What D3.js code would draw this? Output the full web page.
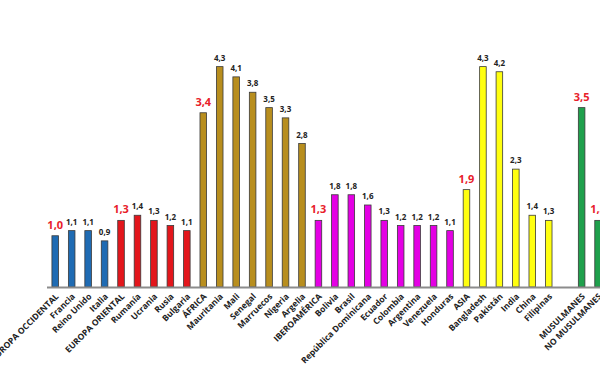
<!DOCTYPE html>
<html>
<head>
<meta charset="utf-8">
<script src="https://cdn.jsdelivr.net/npm/d3@7"></script>
<style>
  body { margin: 0; background: #fff; }
  svg { display: block; }
</style>
</head>
<body>
<div id="chart"></div>
<script>
var width = 600;
var height = 389;

// categories in order, "" is the empty slot before the religion group
var categories = ["EUROPA OCCIDENTAL", "Francia", "Reino Unido", "Italia",
  "EUROPA ORIENTAL", "Rumanía", "Ucrania", "Rusia", "Bulgaria",
  "ÁFRICA", "Mauritania", "Mali", "Senegal", "Marruecos", "Nigeria", "Argelia",
  "IBEROAMÉRICA", "Bolivia", "Brasil", "República Dominicana", "Ecuador", "Colombia", "Argentina", "Venezuela", "Honduras",
  "ASIA", "Bangladesh", "Pakistán", "India", "China", "Filipinas",
  "", "MUSULMANES", "NO MUSULMANES"];
var values = [1.0, 1.1, 1.1, 0.9,
  1.3, 1.4, 1.3, 1.2, 1.1,
  3.4, 4.3, 4.1, 3.8, 3.5, 3.3, 2.8,
  1.3, 1.8, 1.8, 1.6, 1.3, 1.2, 1.2, 1.2, 1.1,
  1.9, 4.3, 4.2, 2.3, 1.4, 1.3,
  null, 3.5, 1.3];
var groups = ["eo", "eo", "eo", "eo",
  "er", "er", "er", "er", "er",
  "af", "af", "af", "af", "af", "af", "af",
  "ib", "ib", "ib", "ib", "ib", "ib", "ib", "ib", "ib",
  "as", "as", "as", "as", "as", "as",
  null, "mu", "mu"];
// group totals get the big red label
var totals = ["EUROPA OCCIDENTAL", "EUROPA ORIENTAL", "ÁFRICA", "IBEROAMÉRICA", "ASIA", "MUSULMANES", "NO MUSULMANES"];

var colors = {eo: "#1f6bb3", er: "#e3161c", af: "#b88e1e", ib: "#e400e4", as: "#ffff10", mu: "#1fa04c"};

var data = categories.map(function(c, i) {
  return {name: c, key: i, value: values[i], group: groups[i]};
});

var svg = d3.select("#chart").append("svg")
  .attr("width", width)
  .attr("height", height);

var x_scale = d3.scaleBand()
  .domain(data.map(d => d.key))
  .range([47, 47 + 34 * 16.45])
  .paddingInner(0.6)
  .paddingOuter(0.3);

var y_scale = d3.scaleLinear()
  .domain([0, 5.6])
  .range([287, 0]);

var fmt = d3.format(".1f");
function label(v) { return fmt(v).replace(".", ","); }

var bars = data.filter(d => d.value != null);

svg.selectAll(".bar")
  .data(bars)
  .enter().append("rect")
  .attr("class", "bar")
  .attr("x", d => x_scale(d.key))
  .attr("y", d => y_scale(d.value))
  .attr("width", x_scale.bandwidth())
  .attr("height", d => y_scale(0) - y_scale(d.value))
  .style("fill", d => colors[d.group])
  .style("stroke", "#3a3a3a")
  .style("stroke-width", 0.8);

// baseline
svg.append("line")
  .attr("x1", 47)
  .attr("x2", width)
  .attr("y1", y_scale(0) + 0.5)
  .attr("y2", y_scale(0) + 0.5)
  .style("stroke", "#8c8c8c")
  .style("stroke-width", 2);

// value labels
svg.selectAll(".val")
  .data(bars)
  .enter().append("text")
  .attr("class", "val")
  .attr("x", d => x_scale(d.key) + x_scale.bandwidth() / 2)
  .attr("y", d => y_scale(d.value) - (totals.includes(d.name) ? 7 : 6))
  .attr("text-anchor", "middle")
  .text(d => label(d.value))
  .style("font-family", "'Open Sans', sans-serif")
  .style("font-weight", "bold")
  .style("font-size", d => totals.includes(d.name) ? "11px" : "8px")
  .style("fill", d => totals.includes(d.name) ? "#e8202a" : "#222");

// category labels, rotated
svg.selectAll(".cat")
  .data(bars)
  .enter().append("text")
  .attr("class", "cat")
  .attr("transform", function(d) {
    var cx = x_scale(d.key) + x_scale.bandwidth() / 2 + 4;
    return "translate(" + cx + ",297) rotate(-45)";
  })
  .attr("text-anchor", "end")
  .text(d => d.name)
  .style("font-family", "'Open Sans', sans-serif")
  .style("font-weight", "bold")
  .style("font-size", "8.5px")
  .style("fill", "#222");
</script>
</body>
</html>
